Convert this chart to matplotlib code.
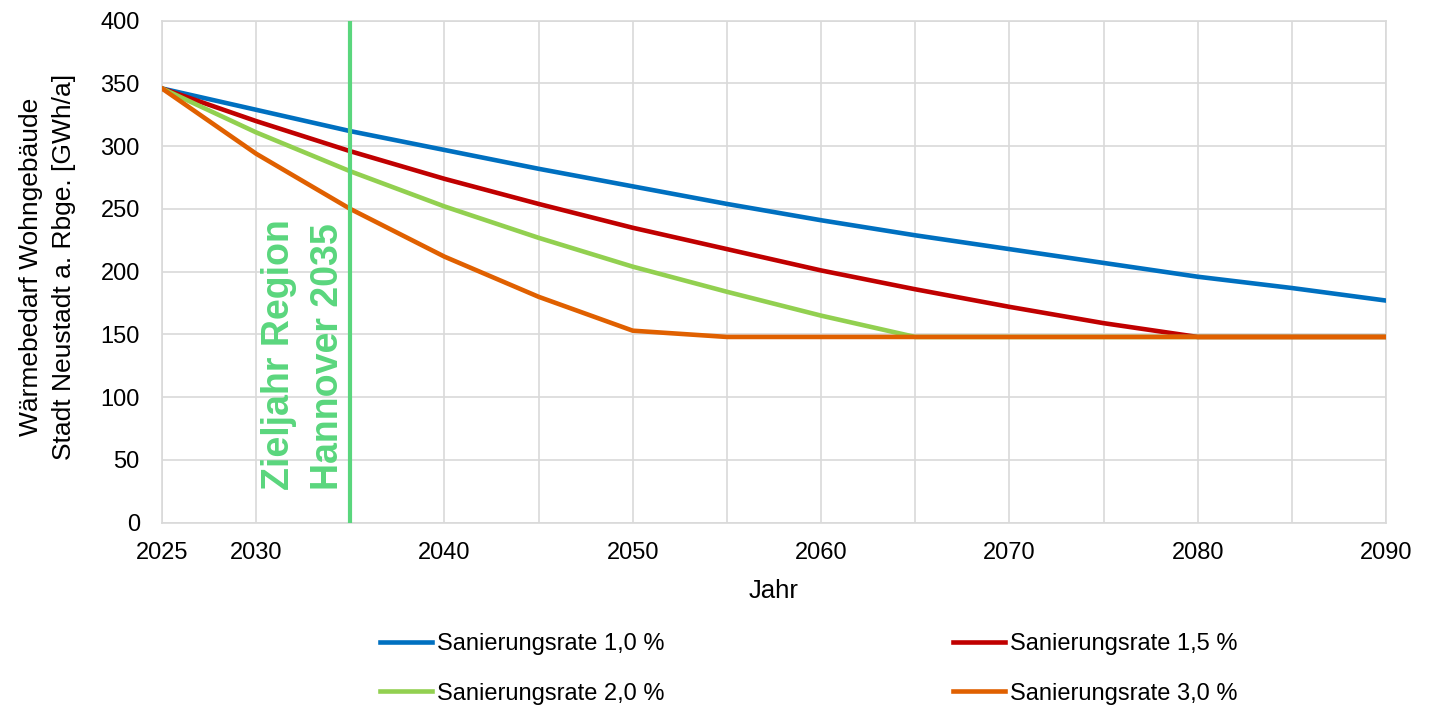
import matplotlib.pyplot as plt

plt.rcParams['font.family'] = ['Liberation Sans', 'DejaVu Sans']

# data (GWh/a per 5-year step)
years = [2025, 2030, 2035, 2040, 2045, 2050, 2055, 2060, 2065, 2070, 2075, 2080, 2085, 2090]
rate_10 = [346, 329, 312, 297, 282, 268, 254, 241, 229, 218, 207, 196, 187, 177]
rate_15 = [346, 320, 296, 274, 254, 235, 218, 201, 186, 172, 159, 148, 148, 148]
rate_20 = [346, 311, 280, 252, 227, 204, 184, 165, 148, 148, 148, 148, 148, 148]
rate_30 = [346, 294, 250, 212, 180, 153, 148, 148, 148, 148, 148, 148, 148, 148]

series_labels = ['Sanierungsrate 1,0 %', 'Sanierungsrate 1,5 %',
                 'Sanierungsrate 2,0 %', 'Sanierungsrate 3,0 %']
series_colors = ['#0070C0', '#C00000', '#92D050', '#E06000']

x_ticks = list(range(2025, 2091, 5))
x_ticklabels = ['2025', '2030', '', '2040', '', '2050', '', '2060', '',
                '2070', '', '2080', '', '2090']
y_ticks = list(range(0, 401, 50))

target_year = 2035
target_text = 'Zieljahr Region\nHannover 2035'
target_color = '#5AD67D'

W, H = 1442, 707
fig = plt.figure(figsize=(W / 100, H / 100), dpi=100)
ax = fig.add_axes([162 / W, 1 - 522.7 / H, (1386 - 162) / W, (522.7 - 20.7) / H])

handles = []
for vals, lab, col in zip([rate_10, rate_15, rate_20, rate_30], series_labels, series_colors):
    h, = ax.plot(years, vals, color=col, lw=3.3, label=lab, solid_joinstyle='round', zorder=3)
    handles.append(h)

ax.axvline(target_year, color=target_color, lw=3, zorder=4)
ax.text(2032.5, 26, target_text, rotation=90, ha='center', va='bottom',
        multialignment='left', color=target_color, fontsize=27, fontweight='bold',
        linespacing=1.45, zorder=5)

ax.set_xlim(2025, 2090)
ax.set_ylim(0, 400)
ax.set_xticks(x_ticks)
ax.set_xticklabels(x_ticklabels)
ax.set_yticks(y_ticks)
ax.tick_params(axis='x', length=0, pad=14, labelsize=17)
ax.tick_params(axis='y', length=0, pad=16, labelsize=17)
ax.grid(True, color='#D9D9D9', lw=1.2, zorder=0)
ax.set_axisbelow(True)
for sp in ax.spines.values():
    sp.set_color('#D9D9D9')
    sp.set_linewidth(1.2)

ax.set_xlabel('Jahr', fontsize=18.5, va='center')
ax.xaxis.set_label_coords(0.5, (522.7 - 591) / 502)
ax.set_ylabel('Wärmebedarf Wohngebäude\nStadt Neustadt a. Rbge. [GWh/a]',
              fontsize=19, va='center', linespacing=1.5)
ax.yaxis.set_label_coords((47.5 - 162) / 1224, (522.7 - 267) / 502)

# legend: row 1 -> 1,0 / 1,5 ; row 2 -> 2,0 / 3,0
order = [0, 2, 1, 3]
fig.legend([handles[i] for i in order], [series_labels[i] for i in order],
           ncol=2, loc='upper left', bbox_to_anchor=(380 / W, 1 - 633 / H),
           frameon=False, fontsize=17, handlelength=2.2, handletextpad=0.2,
           columnspacing=12.25, labelspacing=1.17, borderpad=0, borderaxespad=0)

fig.savefig('out.png', dpi=100)
